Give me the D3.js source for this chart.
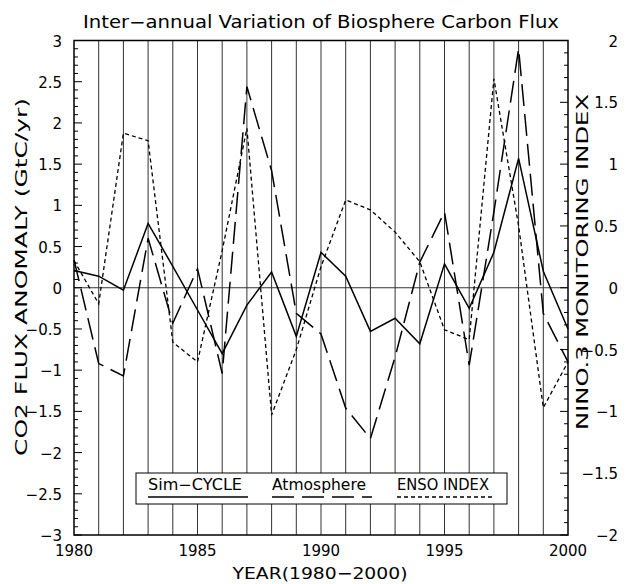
<!DOCTYPE html>
<html>
<head>
<meta charset="utf-8">
<script src="https://cdn.jsdelivr.net/npm/d3@7"></script>
<style>
  body { margin: 0; background: #fff; }
  text { font-family: "DejaVu Sans", sans-serif; fill: #000; }
</style>
</head>
<body>
<svg width="626" height="584"></svg>
<script>
// years 1980..2000
var years = d3.range(1980, 2001);

// Sim-CYCLE biosphere flux anomaly (GtC/yr)
var simCycle = [0.21, 0.14, -0.03, 0.78, 0.26, -0.27, -0.80, -0.21, 0.19, -0.59, 0.43,
                0.14, -0.53, -0.37, -0.68, 0.29, -0.25, 0.43, 1.57, 0.20, -0.50];
// atmosphere based anomaly (GtC/yr)
var atmosphere = [0.34, -0.92, -1.07, 0.60, -0.43, 0.23, -1.04, 2.44, 1.42, -0.31, -0.56,
                  -1.46, -1.83, -0.84, 0.31, 0.92, -0.94, 0.92, 2.90, -0.31, -0.90];
// NINO.3 monitoring index (right axis)
var enso = [0.22, -0.13, 1.25, 1.19, -0.44, -0.60, 0.30, 1.29, -1.03, -0.50, 0.17,
            0.71, 0.63, 0.45, 0.21, -0.34, -0.42, 1.69, 0.50, -0.97, -0.60];

var leftTicks = [-3, -2.5, -2, -1.5, -1, -0.5, 0, 0.5, 1, 1.5, 2, 2.5, 3];
var rightTicks = [-2, -1.5, -1, -0.5, 0, 0.5, 1, 1.5, 2];
var xTicks = [1980, 1985, 1990, 1995, 2000];

var svg = d3.select("svg");
var pL = 74, pR = 568, pT = 40.5, pB = 535;

var x = d3.scaleLinear().domain([1980, 2000]).range([pL, pR]);
var yL = d3.scaleLinear().domain([-3, 3]).range([pB, pT]);
var yR = d3.scaleLinear().domain([-2, 2]).range([pB, pT]);

var fmt = function(d) { return String(d).replace("-", "\u2212"); };
var isMajor = d => Math.abs(d * 2 - Math.round(d * 2)) < 1e-6;

// vertical year lines
svg.append("g").selectAll("line").data(years.slice(1, -1)).join("line")
    .attr("x1", d => x(d)).attr("x2", d => x(d))
    .attr("y1", pT).attr("y2", pB)
    .attr("stroke", "#333").attr("stroke-width", 1);

// zero line
svg.append("line")
    .attr("x1", pL).attr("x2", pR).attr("y1", yL(0)).attr("y2", yL(0))
    .attr("stroke", "#333").attr("stroke-width", 1);

// minor/major ticks, inside the frame
var minorL = d3.range(-30, 31).map(d => d / 10);
svg.append("g").selectAll("line").data(minorL).join("line")
    .attr("x1", pL).attr("x2", d => pL + (isMajor(d) ? 8 : 4))
    .attr("y1", d => yL(d)).attr("y2", d => yL(d))
    .attr("stroke", "#000");
var minorR = d3.range(-20, 21).map(d => d / 10);
svg.append("g").selectAll("line").data(minorR).join("line")
    .attr("x1", pR).attr("x2", d => pR - (isMajor(d) ? 8 : 4))
    .attr("y1", d => yR(d)).attr("y2", d => yR(d))
    .attr("stroke", "#000");

// frame
svg.append("rect")
    .attr("x", pL).attr("y", pT).attr("width", pR - pL).attr("height", pB - pT)
    .attr("fill", "none").attr("stroke", "#000").attr("stroke-width", 1.5);

// tick labels
svg.append("g").selectAll("text").data(leftTicks).join("text")
    .attr("x", 62).attr("y", d => yL(d) + 6)
    .attr("text-anchor", "end").attr("font-size", 15)
    .text(fmt);
svg.append("g").selectAll("text").data(rightTicks).join("text")
    .attr("x", 618).attr("y", d => yR(d) + 6)
    .attr("text-anchor", "end").attr("font-size", 15)
    .text(fmt);
svg.append("g").selectAll("text").data(xTicks).join("text")
    .attr("x", d => x(d)).attr("y", 556)
    .attr("text-anchor", "middle").attr("font-size", 15)
    .text(d => d);

// titles
var stretch = function(sel, w) {
  return sel.attr("textLength", w).attr("lengthAdjust", "spacingAndGlyphs");
};
stretch(svg.append("text").attr("x", 321).attr("y", 28).attr("text-anchor", "middle")
    .attr("font-size", 17), 476)
    .text("Inter\u2212annual Variation of Biosphere Carbon Flux");
stretch(svg.append("text").attr("x", 320).attr("y", 579).attr("text-anchor", "middle")
    .attr("font-size", 16), 175)
    .text("YEAR(1980\u22122000)");
stretch(svg.append("text").attr("transform", "translate(27,277) rotate(-90)")
    .attr("text-anchor", "middle").attr("font-size", 15), 358)
    .text("CO2 FLUX ANOMALY (GtC/yr)");
stretch(svg.append("text").attr("transform", "translate(588,262) rotate(-90)")
    .attr("text-anchor", "middle").attr("font-size", 15), 336)
    .text("NINO.3 MONITORING INDEX");

// series
var lineL = d3.line().x((d, i) => x(years[i])).y(d => yL(d));
var lineR = d3.line().x((d, i) => x(years[i])).y(d => yR(d));

svg.append("path").datum(simCycle).attr("d", lineL)
    .attr("fill", "none").attr("stroke", "#000").attr("stroke-width", 1.5);
svg.append("path").datum(atmosphere).attr("d", lineL)
    .attr("fill", "none").attr("stroke", "#000").attr("stroke-width", 1.5)
    .attr("stroke-dasharray", "22,8");
svg.append("path").datum(enso).attr("d", lineR)
    .attr("fill", "none").attr("stroke", "#000").attr("stroke-width", 1.3)
    .attr("stroke-dasharray", "4,3");

// legend
var lg = svg.append("g");
lg.append("rect").attr("x", 136).attr("y", 473).attr("width", 371).attr("height", 31)
    .attr("fill", "#fff").attr("stroke", "#000").attr("stroke-width", 1);
var legendItems = [
  {name: "Sim\u2212CYCLE", x: 148, w: 100, dash: null},
  {name: "Atmosphere", x: 272, w: 100, dash: "22,8"},
  {name: "ENSO INDEX", x: 397, w: 98, dash: "4,3"}
];
legendItems.forEach(function(it) {
  stretch(lg.append("text").attr("x", it.x).attr("y", 490).attr("font-size", 15), it.w - 6)
      .text(it.name);
  lg.append("line").attr("x1", it.x).attr("x2", it.x + it.w)
      .attr("y1", 497).attr("y2", 497)
      .attr("stroke", "#000").attr("stroke-width", 1.3)
      .attr("stroke-dasharray", it.dash);
});
</script>
</body>
</html>
